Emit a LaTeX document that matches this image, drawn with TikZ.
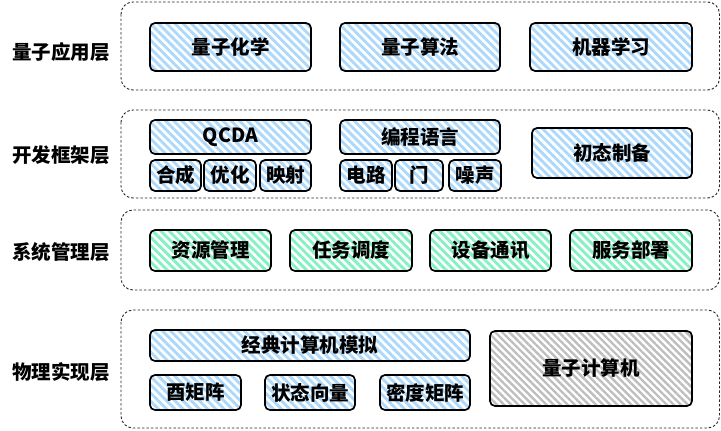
\documentclass[tikz,border=0pt]{standalone}
\usepackage{fontspec}
\setmainfont{Noto Sans CJK SC}
\usetikzlibrary{patterns.meta}
\definecolor{hatchblue}{HTML}{ACD8FC}
\definecolor{hatchgreen}{HTML}{84F0C4}
\definecolor{hatchgray}{HTML}{BEBEBE}
\tikzset{
  txt/.style={font=\fontsize{19.5}{22}\selectfont\bfseries},
  layer/.style={draw=black!85,dashed,dash pattern=on 2.5pt off 2pt,line width=0.9pt,rounded corners=12pt},
  blk/.style={draw=black,line width=1.7pt,rounded corners=5pt,inner sep=0pt,txt},
  blue/.style={blk,pattern={Lines[angle=-45,distance=5.8pt,line width=2.9pt]},pattern color=hatchblue},
  green/.style={blk,pattern={Lines[angle=-45,distance=5.8pt,line width=2.9pt]},pattern color=hatchgreen},
  gray/.style={blk,pattern={Lines[angle=-45,distance=5pt,line width=2.4pt]},pattern color=hatchgray},
}
\begin{document}
\begin{tikzpicture}[x=1pt,y=-1pt]
\useasboundingbox (0,0) rectangle (721,431);
% layers
\draw[layer] (121,2) rectangle (719.5,90);
\draw[layer] (121,110) rectangle (719.5,198);
\draw[layer] (121,210) rectangle (719.5,290);
\draw[layer] (121,310) rectangle (719.5,428);
\node[txt] (appl) at (61,52) {量子应用层};
\node[txt] (devl) at (61,155) {开发框架层};
\node[txt] (sysl) at (61,252) {系统管理层};
\node[txt] (phyl) at (61,372) {物理实现层};
% application layer
\node[blue,minimum width=161pt,minimum height=48pt] (qchem) at (230.5,47) {量子化学};
\node[blue,minimum width=160pt,minimum height=48pt] (qalgo) at (420,47) {量子算法};
\node[blue,minimum width=162pt,minimum height=48pt] (ml) at (611,47) {机器学习};
% framework layer
\node[blue,minimum width=161pt,minimum height=34pt] (qcda) at (230.5,137) {QCDA};
\node[blue,minimum width=51pt,minimum height=31pt] (synth) at (175.5,175.5) {合成};
\node[blue,minimum width=52pt,minimum height=31pt] (optim) at (230,175.5) {优化};
\node[blue,minimum width=51pt,minimum height=31pt] (mapp) at (285.5,175.5) {映射};
\node[blue,minimum width=160pt,minimum height=34pt] (lang) at (420,137) {编程语言};
\node[blue,minimum width=52pt,minimum height=31pt] (circ) at (366,175.5) {电路};
\node[blue,minimum width=48pt,minimum height=31pt] (gate) at (419,175.5) {门};
\node[blue,minimum width=52pt,minimum height=31pt] (noise) at (475,175.5) {噪声};
\node[blue,minimum width=160pt,minimum height=50pt] (init) at (612,153) {初态制备};
% system layer
\node[green,minimum width=121pt,minimum height=41pt] (res) at (210.5,250.5) {资源管理};
\node[green,minimum width=122pt,minimum height=41pt] (sched) at (351,250.5) {任务调度};
\node[green,minimum width=121pt,minimum height=41pt] (comm) at (490.5,250.5) {设备通讯};
\node[green,minimum width=122pt,minimum height=41pt] (deploy) at (631,250.5) {服务部署};
% physical layer
\node[blue,minimum width=320pt,minimum height=31pt] (sim) at (310,345.5) {经典计算机模拟};
\node[blue,minimum width=91pt,minimum height=35pt] (unit) at (195.5,392.5) {酉矩阵};
\node[blue,minimum width=90pt,minimum height=35pt] (svec) at (310,392.5) {状态向量};
\node[blue,minimum width=90pt,minimum height=35pt] (dmat) at (425,392.5) {密度矩阵};
\node[gray,minimum width=202pt,minimum height=75pt] (qpc) at (591,368.5) {量子计算机};
\end{tikzpicture}
\end{document}
